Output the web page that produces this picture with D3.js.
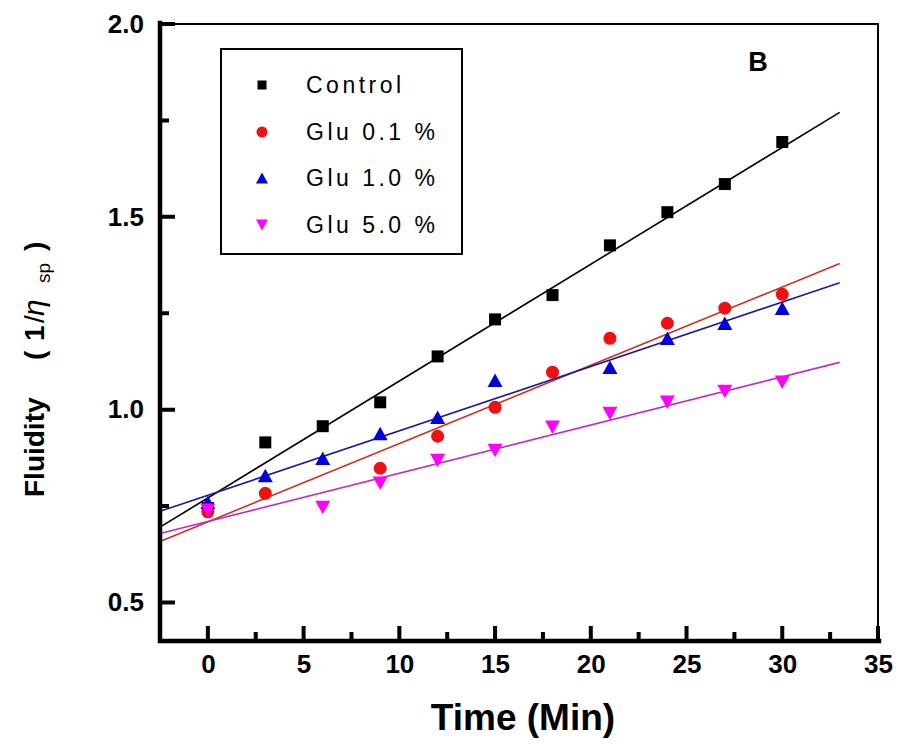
<!DOCTYPE html>
<html>
<head>
<meta charset="utf-8">
<script src="https://cdn.jsdelivr.net/npm/d3@7"></script>
<style>
  html, body { margin: 0; padding: 0; background: #fff; }
  svg { display: block; }
  text { font-family: "Liberation Sans", Arial, sans-serif; }
</style>
</head>
<body>
<svg id="chart" width="897" height="745"></svg>
<script>
// Sampling times (min)
const times = [0, 3, 6, 9, 12, 15, 18, 21, 24, 27, 30];

// Fluidity (1/eta_sp) for each treatment; null = no point plotted
const controlVals = [0.745, 0.915, 0.957, 1.019, 1.138, 1.234, 1.297, 1.426, 1.512, 1.585, 1.694];
const glu01Vals   = [0.735, 0.783, null, 0.848, 0.931, 1.006, 1.097, 1.185, 1.224, 1.263, 1.299];
const glu10Vals   = [0.760, 0.829, 0.874, 0.938, 0.980, 1.076, null, 1.110, 1.185, 1.224, 1.263];
const glu50Vals   = [0.739, null, 0.746, 0.809, 0.868, 0.894, 0.954, 0.990, 1.019, 1.047, 1.071];

// Linear fit lines (intercept, slope per minute), drawn from the axis start to fitEnd
const fitIntercepts = [0.771, 0.709, 0.778, 0.710];
const fitSlopes     = [0.0303, 0.0203, 0.0167, 0.0125];
const fitEnd = 33;

const seriesNames = ["Control", "Glu 0.1 %", "Glu 1.0 %", "Glu 5.0 %"];
const xTicks = [0, 5, 10, 15, 20, 25, 30, 35];
const xMinorTicks = [2.5, 7.5, 12.5, 17.5, 22.5, 27.5, 32.5];
const yTicks = [0.5, 1.0, 1.5, 2.0];
const yMinorTicks = [0.75, 1.25, 1.75];

const markerColors = ["#000000", "#ee1111", "#0000dd", "#ff00ff"];
const lineColors   = ["#000000", "#cc3322", "#1a1aa0", "#c030c0"];
const markerTypes  = ["square", "circle", "up", "down"];

const seriesVals = [controlVals, glu01Vals, glu10Vals, glu50Vals];

const svg = d3.select("#chart");
const plotL = 160, plotR = 878, plotT = 24, plotB = 641;

const x = d3.scaleLinear().domain([-2.5, 35]).range([plotL, plotR]);
const y = d3.scaleLinear().domain([0.4, 2.0]).range([plotB, plotT]);

// marker path generator
function markerPath(type, size) {
  const h = size * 0.9, w = size;
  if (type === "down") return `M${-w/2},${-h/2}L${w/2},${-h/2}L0,${h/2}Z`;
  if (type === "up") return `M${-w/2},${h/2}L${w/2},${h/2}L0,${-h/2}Z`;
  if (type === "square") return `M${-size/2},${-size/2}h${size}v${size}h${-size}Z`;
  const r = size / 2;
  return `M${r},0A${r},${r} 0 1,1 ${-r},0A${r},${r} 0 1,1 ${r},0Z`;
}

// Axis labels via d3 axes (tick marks drawn separately below)
function labelAxis(g) {
  g.select(".domain").remove();
  g.selectAll(".tick line").remove();
  g.selectAll(".tick text").attr("font-size", 26).attr("font-weight", "bold")
    .attr("font-family", "'Liberation Sans', Arial, sans-serif").attr("fill", "#000");
}
svg.append("g").attr("transform", `translate(0,${plotB})`)
  .call(d3.axisBottom(x).tickValues(xTicks).tickSize(0).tickPadding(14).tickFormat(d3.format("d")))
  .call(labelAxis);
svg.append("g").attr("transform", `translate(${plotL},0)`)
  .call(d3.axisLeft(y).tickValues(yTicks).tickSize(0).tickPadding(16).tickFormat(d3.format(".1f")))
  .call(labelAxis);

// Fit lines
const line = d3.line().x(d => x(d[0])).y(d => y(d[1]));
fitIntercepts.forEach((b, i) => {
  const xs = [x.domain()[0], fitEnd];
  svg.append("path")
    .attr("d", line(xs.map(t => [t, b + fitSlopes[i] * t])))
    .attr("fill", "none").attr("stroke", lineColors[i]).attr("stroke-width", 1.6);
});

// Frame: thin top and right edges
svg.append("path")
  .attr("d", `M${plotL},${plotT}H${plotR}V${plotB}`)
  .attr("fill", "none").attr("stroke", "#000").attr("stroke-width", 2);

// Heavy left and bottom axes
svg.append("path")
  .attr("d", `M${plotL},${plotT - 1}V${plotB}H${plotR + 1}`)
  .attr("fill", "none").attr("stroke", "#000").attr("stroke-width", 4.5)
  .attr("stroke-linecap", "square");

// Inward tick marks
let tickD = "";
xTicks.forEach(v => { tickD += `M${x(v)},${plotB}V${plotB - 15}`; });
xMinorTicks.forEach(v => { tickD += `M${x(v)},${plotB}V${plotB - 9}`; });
yTicks.forEach(v => { tickD += `M${plotL},${y(v)}H${plotL + 15}`; });
yMinorTicks.forEach(v => { tickD += `M${plotL},${y(v)}H${plotL + 9}`; });
svg.append("path").attr("d", tickD)
  .attr("fill", "none").attr("stroke", "#000").attr("stroke-width", 4);

// Data markers
seriesVals.forEach((vals, i) => {
  const pts = times.map((t, k) => [t, vals[k]]).filter(d => d[1] !== null);
  const size = i === 0 ? 12 : (i === 1 ? 13 : 15);
  svg.append("g").selectAll("path").data(pts).join("path")
    .attr("transform", d => `translate(${x(d[0])},${y(d[1])})`)
    .attr("d", markerPath(markerTypes[i], size))
    .attr("fill", markerColors[i]);
});

// Legend
const lg = svg.append("g");
lg.append("rect").attr("x", 221).attr("y", 49).attr("width", 241).attr("height", 205)
  .attr("fill", "#fff").attr("stroke", "#000").attr("stroke-width", 2);
const legendRowsY = [85, 132, 178, 225];
seriesNames.forEach((name, i) => {
  const size = i === 0 ? 9 : (i === 1 ? 11 : 12);
  lg.append("path").attr("transform", `translate(262,${legendRowsY[i]})`)
    .attr("d", markerPath(markerTypes[i], size)).attr("fill", markerColors[i]);
  lg.append("text").attr("x", 306).attr("y", legendRowsY[i]).attr("dy", "0.35em")
    .attr("font-size", 23).attr("letter-spacing", 3.5).attr("fill", "#000").text(name);
});

// Panel letter
svg.append("text").attr("x", 758).attr("y", 62).attr("dy", "0.35em").attr("text-anchor", "middle")
  .attr("font-size", 27).attr("font-weight", "bold").text("B");

// Axis titles
svg.append("text").attr("x", (plotL + plotR) / 2 + 4).attr("y", 730).attr("text-anchor", "middle")
  .attr("font-size", 37).attr("font-weight", "bold").text("Time (Min)");

const yt = svg.append("text").attr("transform", "translate(44,497) rotate(-90)")
  .attr("font-size", 28).attr("font-weight", "bold");
yt.append("tspan").attr("x", 0).text("Fluidity");
yt.append("tspan").attr("x", 137).text("(");
yt.append("tspan").attr("x", 156).text("1");
yt.append("tspan").attr("x", 174).attr("font-weight", "normal").text("/");
yt.append("tspan").attr("x", 181).attr("font-weight", "normal").attr("font-style", "italic")
  .attr("font-size", 30).text("η");
yt.append("tspan").attr("x", 214).attr("font-size", 19).attr("font-weight", "normal").attr("dy", 6).text("sp");
yt.append("tspan").attr("x", 246).attr("dy", -6).text(")");
</script>
</body>
</html>
